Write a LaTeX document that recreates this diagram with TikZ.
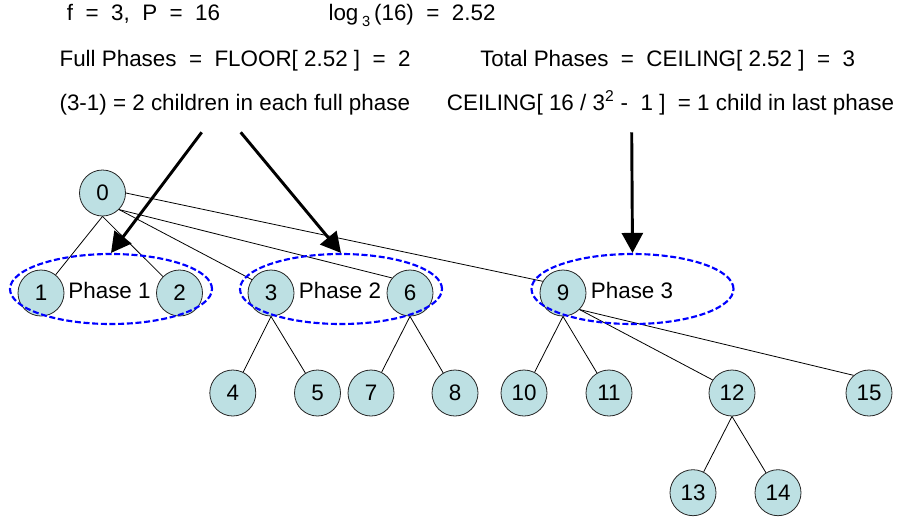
\documentclass[tikz,border=0pt]{standalone}
\usepackage{fontspec}
\setmainfont{Liberation Sans}
\usetikzlibrary{arrows.meta,shapes.geometric}
\definecolor{nodefill}{RGB}{189,224,227}
\definecolor{phaseblue}{RGB}{0,0,255}
\begin{document}
\begin{tikzpicture}[x=0.75pt,y=-0.75pt,
  every node/.style={font=\fontsize{16.8}{19}\selectfont},
  txt/.style={anchor=base west,inner sep=0pt},
  proc/.style={circle,draw=black!85,line width=0.6pt,fill=nodefill,
    minimum size=34.5pt,inner sep=0pt},
  phase/.style={ellipse,draw=phaseblue,line width=1.6pt,
    dash pattern=on 4.5pt off 2pt,minimum width=151.5pt,
    minimum height=52.5pt,inner sep=0pt},
  edge/.style={draw=black,line width=0.6pt},
  bigarrow/.style={draw=black,line width=2.2pt,
    -{Triangle[length=15pt,width=15.75pt]}}]
\useasboundingbox (0,0) rectangle (902,519);

% formulas
\node[txt] (t1) at (66.7,20.7) {f\ \ =\ \ 3,\ \ P\ \ =\ \ 16};
\node[txt] (t2) at (328.3,20.7) {log\,\raisebox{-0.45ex}{\fontsize{11}{12}\selectfont 3}\,(16)\ \ =\ \ 2.52};
\node[txt] (t3) at (59.3,66.7) {Full Phases\ \ =\ \ FLOOR[ 2.52 ]\ \ =\ \ 2};
\node[txt] (t4) at (480,66.7) {Total Phases\ \ =\ \ CEILING[ 2.52 ]\ \ =\ \ 3};
\node[txt] (t5) at (59.3,110) {(3-1) = 2 children in each full phase};
\node[txt] (t6) at (446.7,110) {CEILING[ 16 / 3\textsuperscript{2} -\ \ 1 ]\ \ = 1 child in last phase};

% processes
\node[proc] (n0) at (102.5,193) {0};
\node[proc] (n1) at (41,293) {1};
\node[proc] (n2) at (179.5,293) {2};
\node[proc] (n3) at (271,293) {3};
\node[proc] (n6) at (410,293) {6};
\node[proc] (n9) at (563,293) {9};
\node[proc] (n4) at (232.8,393) {4};
\node[proc] (n5) at (317.5,393) {5};
\node[proc] (n7) at (371,393) {7};
\node[proc] (n8) at (455,393) {8};
\node[proc] (n10) at (524,393) {10};
\node[proc] (n11) at (609,393) {11};
\node[proc] (n12) at (732,393) {12};
\node[proc] (n15) at (869,393) {15};
\node[proc] (n13) at (693,492.7) {13};
\node[proc] (n14) at (778,492.7) {14};

% tree edges
\draw[edge] (n0.south) -- (n1);
\draw[edge] (n0.south) -- (n2);
\draw[edge] (n0.-45) -- (n3.145);
\draw[edge] (n0.-45) -- (n6.140);
\draw[edge] (n0.east) -- (n9.150);
\draw[edge] (n3.south) -- (n4);
\draw[edge] (n3.south) -- (n5);
\draw[edge] (n6.south) -- (n7);
\draw[edge] (n6.south) -- (n8);
\draw[edge] (n9.south) -- (n10);
\draw[edge] (n9.south) -- (n11);
\draw[edge] (n9.-45) -- (n12.146);
\draw[edge] (n9.-45) -- (n15.131);
\draw[edge] (n12.south) -- (n13);
\draw[edge] (n12.south) -- (n14);

% phase groups
\node[phase] (e1) at (111,289) {};
\node[phase] (e2) at (341,289) {};
\node[phase] (e3) at (632.5,289) {};
\node[inner sep=0pt] (p1) at (109.5,290) {Phase 1};
\node[inner sep=0pt] (p2) at (340,290) {Phase 2};
\node[inner sep=0pt] (p3) at (632,290) {Phase 3};

% pointers from the formulas
\coordinate (a1) at (201.7,132.3);
\coordinate (a2) at (240.7,132.3);
\coordinate (a3) at (631.7,132.3);
\draw[bigarrow] (a1) -- (e1.north);
\draw[bigarrow] (a2) -- (e2.north);
\draw[bigarrow] (a3) -- (e3.north);
\end{tikzpicture}
\end{document}
